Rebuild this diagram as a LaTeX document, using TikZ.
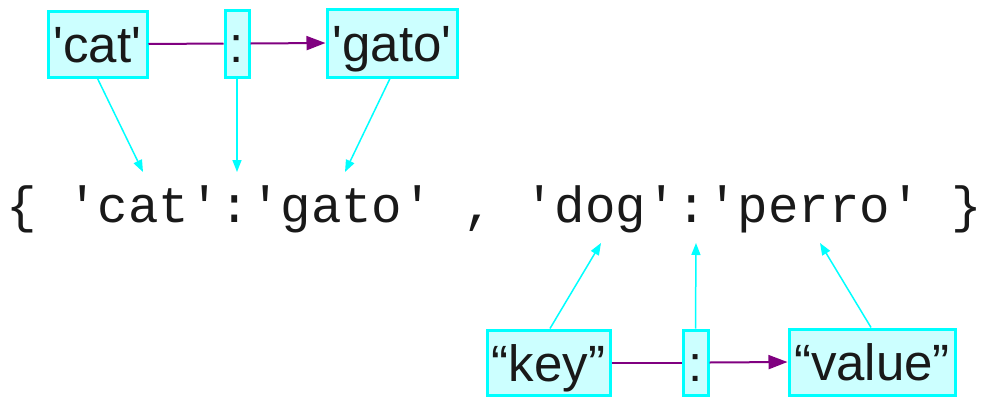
\documentclass[tikz,border=0pt]{standalone}
\usepackage{fontspec}
\newfontfamily\lblfont{Liberation Sans}
\newfontfamily\codefont{Liberation Mono}
\usetikzlibrary{arrows.meta}
\definecolor{boxfill}{RGB}{204,255,255}
\definecolor{boxline}{RGB}{0,255,255}
\definecolor{purp}{RGB}{128,0,128}
\tikzset{
  lbl/.style={draw=boxline, fill=boxfill, line width=3pt, inner sep=0pt,
    text height=38pt, text depth=1pt,
    font=\lblfont\fontsize{51}{58}\selectfont, text=black!90},
  pointer/.style={draw=boxline, line width=1.5pt, -{Triangle[length=12pt,width=9pt]}},
  pairline/.style={draw=purp, line width=2pt},
  pairarrow/.style={pairline, -{Triangle[length=19pt,width=14pt]}},
}
\begin{document}
\begin{tikzpicture}[x=1pt,y=-1pt]
\useasboundingbox (0,0) rectangle (986,397);
% code line
\node[anchor=base, inner sep=0pt, font=\codefont\fontsize{50.8}{60}\selectfont, text=black!90] (code) at (494,222) {\{ 'cat':'gato' , 'dog':'perro' \}};
% top labels
\node[lbl, minimum width=99pt, minimum height=66pt] (cat) at (97.5,44) {'cat'};
\node[lbl, minimum width=24pt, minimum height=67pt] (c1) at (237,43.5) {:};
\node[lbl, minimum width=130pt, minimum height=68pt] (gato) at (392,43) {'gato'};
% bottom labels
\node[lbl, minimum width=123pt, minimum height=65pt] (key) at (548.5,362.5) {“key”};
\node[lbl, minimum width=25pt, minimum height=65pt] (c2) at (695.5,362.5) {:};
\node[lbl, minimum width=166pt, minimum height=66pt] (value) at (872,362) {“value”};
% targets in code
\coordinate (tcat) at (143,172);
\coordinate (tc1) at (237,172);
\coordinate (tgato) at (345,172);
\coordinate (tdog) at (601,243);
\coordinate (tc2) at (696,243);
\coordinate (tperro) at (820,243);
% pair connectors
\draw[pairline] (cat.east) -- (c1.west);
\draw[pairarrow] (c1.east) -- (gato.west);
\draw[pairline] (key.east) -- (c2.west);
\draw[pairarrow] (c2.east) -- (value.west);
% pointers
\draw[pointer] (cat.south) -- (tcat);
\draw[pointer] (c1.south) -- (tc1);
\draw[pointer] ([xshift=-2pt]gato.south) -- (tgato);
\draw[pointer] ([xshift=1.5pt]key.north) -- (tdog);
\draw[pointer] (c2.north) -- (tc2);
\draw[pointer] ([xshift=-1pt]value.north) -- (tperro);
\end{tikzpicture}
\end{document}
